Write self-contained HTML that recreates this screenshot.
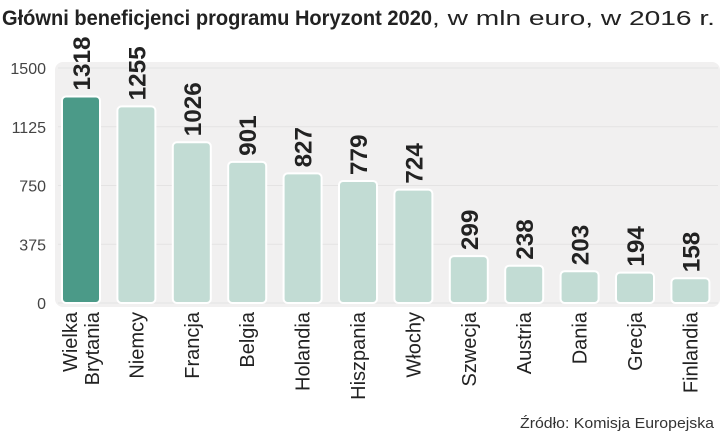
<!DOCTYPE html>
<html><head><meta charset="utf-8"><style>
html,body{margin:0;padding:0;background:#fff;}
svg{display:block;font-family:"Liberation Sans",sans-serif;}
</style></head><body>
<svg id="chart" width="720" height="436" viewBox="0 0 720 436">
<text x="2" y="25" font-size="21" fill="#222"><tspan font-weight="bold" textLength="430" lengthAdjust="spacingAndGlyphs">Główni beneficjenci programu Horyzont 2020</tspan><tspan font-size="20" textLength="283" lengthAdjust="spacingAndGlyphs">, w mln euro, w 2016 r.</tspan></text>
<rect x="55" y="62" width="665" height="245" rx="8" fill="#f1f0f0"/>
<g id="grid"></g><g id="bars"></g>
<text x="714" y="428" text-anchor="end" font-size="15" fill="#333" textLength="194" lengthAdjust="spacingAndGlyphs">Źródło: Komisja Europejska</text>
</svg>
<script>
const categories=["Wielka|Brytania","Niemcy","Francja","Belgia","Holandia","Hiszpania","Włochy","Szwecja","Austria","Dania","Grecja","Finlandia"];
const values=[1318,1255,1026,901,827,779,724,299,238,203,194,158];
const ticks=[0,375,750,1125,1500];
const NS="http://www.w3.org/2000/svg";
const y0=303,yTop=68,maxV=1500;
const y=v=>y0-(v/maxV)*(y0-yTop);
const x=i=>81+i*55.4;
const bw=38;
function mk(t,a,p){const e=document.createElementNS(NS,t);for(const k in a)e.setAttribute(k,a[k]);p.appendChild(e);return e;}
const grid=document.getElementById('grid'),bars=document.getElementById('bars');
ticks.forEach(t=>{
  const l=mk('line',{x1:58,x2:718,y1:y(t),y2:y(t),stroke:'#e4e3e3','stroke-width':1},grid);
  
  
  const tx=mk('text',{x:46,y:y(t)+6,'text-anchor':'end','font-size':16,fill:'#444'},grid);
  tx.textContent=t;
  
  
});
values.forEach((v,i)=>{
  const cx=x(i);
  const r=mk('rect',{x:cx-bw/2,y:y(v),width:bw,height:y0-y(v),rx:4,fill:i===0?'#4b9a88':'#c2dcd4',stroke:'#fff','stroke-width':2},bars);
  
  
  const vt=mk('text',{transform:`translate(${cx+9},${y(v)-6}) rotate(-90)`,'font-size':24,'font-weight':'bold',fill:'#222'},bars);
  vt.textContent=v;
  vt.setAttribute('textLength',String(v).length*13.5);
  vt.setAttribute('lengthAdjust','spacingAndGlyphs');
  
  
  const parts=categories[i].split('|');
  parts.forEach((p,j)=>{
    const off=parts.length===2?(j===0?-4:18):7;
    const ct=mk('text',{transform:`translate(${cx+off},${312}) rotate(-90)`,'text-anchor':'end','font-size':20,fill:'#222'},bars);
    ct.textContent=p;
    
    
  });
});
</script>
</body></html>
